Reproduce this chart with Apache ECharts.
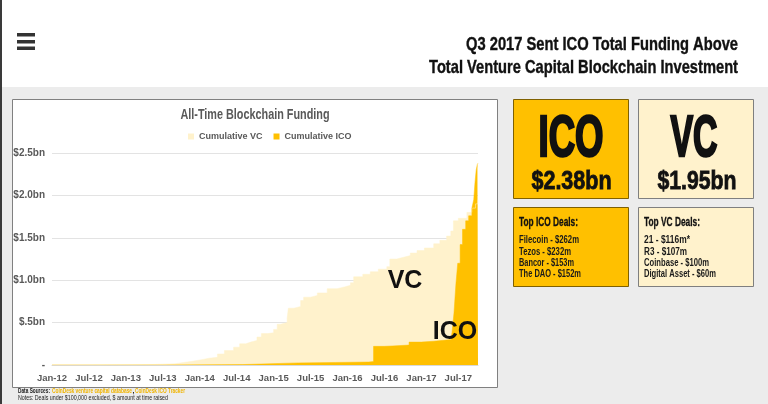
<!DOCTYPE html>
<html>
<head>
<meta charset="utf-8">
<script src="https://cdn.jsdelivr.net/npm/echarts@6/dist/echarts.min.js"></script>
<style>html,body{margin:0;padding:0;background:#ececec}#c{width:768px;height:404px}</style>
</head>
<body>
<div id="c"></div>
<script>
// ---------- data ----------
const tickLabels = ['Jan-12','Jul-12','Jan-13','Jul-13','Jan-14','Jul-14','Jan-15','Jul-15','Jan-16','Jul-16','Jan-17','Jul-17'];

const vcDates = ['2012-01-01','2012-07-01','2013-01-01','2013-05-01','2013-07-01','2013-09-01','2013-10-13','2013-11-16',
  '2014-01-04','2014-02-15','2014-03-28','2014-05-01','2014-06-16','2014-07-16','2014-08-16','2014-09-10','2014-10-10',
  '2014-11-01','2014-12-01','2015-01-01','2015-01-19','2015-02-04','2015-03-07','2015-03-13','2015-04-10','2015-05-13',
  '2015-05-28','2015-07-01','2015-08-04','2015-09-22','2015-11-10','2015-12-16','2016-01-16','2016-02-01','2016-03-16',
  '2016-04-22','2016-06-01','2016-07-13','2016-07-28','2016-09-01','2016-10-04','2016-11-07','2016-12-10','2017-01-16',
  '2017-03-01','2017-04-01','2017-05-04','2017-05-25','2017-06-07','2017-07-01','2017-08-13','2017-09-07','2017-09-25','2017-10-07'];
const vcValues = [0.000,0.002,0.005,0.010,0.015,0.030,0.040,0.060,
  0.080,0.090,0.130,0.170,0.210,0.250,0.270,0.290,0.330,
  0.370,0.380,0.420,0.480,0.500,0.550,0.670,0.690,0.760,
  0.800,0.820,0.850,0.900,0.920,0.940,0.970,1.040,1.070,
  1.100,1.130,1.160,1.250,1.270,1.290,1.320,1.350,1.380,
  1.430,1.470,1.520,1.580,1.700,1.730,1.800,1.850,1.900,1.950];

const icoDates = ['2012-01-01','2013-07-01','2014-08-01','2015-05-01','2015-11-01','2016-04-15','2016-05-08','2016-07-01',
  '2016-08-12','2016-11-01','2017-01-01','2017-03-01','2017-05-28','2017-06-01','2017-06-10','2017-06-19','2017-06-28',
  '2017-07-10','2017-07-22','2017-08-07','2017-08-22','2017-09-07','2017-09-16','2017-09-22','2017-09-28','2017-10-04','2017-10-07'];
const icoValues = [0.000,0.005,0.025,0.030,0.035,0.040,0.220,0.225,
  0.235,0.270,0.280,0.300,0.330,0.400,0.620,0.950,1.200,
  1.420,1.600,1.700,1.760,1.850,1.950,2.150,2.300,2.370,2.380];

const topIcoDeals = ['Filecoin - $262m','Tezos - $232m','Bancor - $153m','The DAO - $152m'];
const topVcDeals = ['21 - $116m*','R3 - $107m','Coinbase - $100m','Digital Asset - $60m'];
const icoTotal = '$2.38bn';
const vcTotal = '$1.95bn';

// ---------- helpers ----------
function monthOffset(s){
  const p = s.split('-').map(Number);
  const dim = new Date(p[0], p[1], 0).getDate();
  return (p[0]-2012)*12 + (p[1]-1) + (p[2]-1)/dim;
}
const NARROW = "'Liberation Sans Narrow','Liberation Sans',Arial,sans-serif";
const ctx = document.createElement('canvas').getContext('2d');
function fit(text, font, w){ ctx.font = font; return w / ctx.measureText(text).width; }
function txt(text, x, y, font, w, fill, align, strokeW){
  const st = {text:text, font:font, fill:fill||'#111', align:align||'left', textAlign:align||'left',
      verticalAlign:'middle', textVerticalAlign:'middle'};
  if (strokeW) { st.stroke = fill||'#111'; st.lineWidth = strokeW; }
  return {type:'text', x:x, y:y, z:10, scaleX: w ? fit(text, font, w) : 1, style:st};
}
function rect(x,y,w,h,fill,stroke){
  return {type:'rect', z:-5, shape:{x:x,y:y,width:w,height:h},
    style:{fill:fill, stroke:stroke||null, lineWidth:stroke?1:0}};
}

const vcData = vcDates.map((d,i)=>[monthOffset(d), vcValues[i]]);
const icoData = icoDates.map((d,i)=>[monthOffset(d), icoValues[i]]);
const xMax = monthOffset(vcDates[vcDates.length-1]);

const ORANGE = '#FFC000', LIGHT = '#FFF2CC';

const graphics = [
  rect(0,0,768,87,'#ffffff'),
  rect(0,0,2,404,'#3a3a3a'),
  rect(17,33,18,3.5,'#333'), rect(17,40,18,3.5,'#333'), rect(17,46.5,18,3.5,'#333'),
  rect(12.5,99.5,485,288,'#ffffff','#808080'),
  rect(513.5,99.5,115,99,ORANGE,'#7f6000'),
  rect(638.5,99.5,115,99,LIGHT,'#7f7f7f'),
  rect(513.5,207.5,115,79,ORANGE,'#7f6000'),
  rect(638.5,207.5,115,79,LIGHT,'#7f7f7f'),
  txt('Q3 2017 Sent ICO Total Funding Above', 738, 44.5, 'bold 19px '+NARROW, 272, '#111', 'right', 0.4),
  txt('Total Venture Capital Blockchain Investment', 738, 67.5, 'bold 19px '+NARROW, 309, '#111', 'right', 0.4),
  txt('All-Time Blockchain Funding', 255, 115, 'bold 14px '+NARROW, 149, '#595959', 'center'),
  txt('ICO', 571, 140, 'bold 57px '+NARROW, 65, '#111', 'center', 2.6),
  txt(icoTotal, 571.5, 182.5, 'bold 25px '+NARROW, 80, '#111', 'center', 0.8),
  txt('VC', 694, 140, 'bold 57px '+NARROW, 47, '#111', 'center', 2.6),
  txt(vcTotal, 697, 182.5, 'bold 25px '+NARROW, 79, '#111', 'center', 0.8),
  txt('Top ICO Deals:', 519, 223, 'bold 12px '+NARROW, 59, '#111', 'left', 0.3),
  txt('Top VC Deals:', 644, 223, 'bold 12px '+NARROW, 56, '#111', 'left', 0.3),
  txt('VC', 405, 281, 'bold 25px "Liberation Sans",Arial,sans-serif', 0, '#111', 'center'),
  txt('ICO', 455, 332.5, 'bold 25px "Liberation Sans",Arial,sans-serif', 0, '#111', 'center'),
  txt('Data Sources:', 18, 391, 'bold 7px '+NARROW, 32, '#222'),
  txt('CoinDesk venture capital database', 52, 391, 'bold 7px '+NARROW, 80, '#f0b400'),
  txt(',', 132.5, 391, 'bold 7px '+NARROW, 0, '#222'),
  txt('CoinDesk ICO Tracker', 135, 391, 'bold 7px '+NARROW, 50, '#f0b400'),
  txt('Notes: Deals under $100,000 excluded, $ amount at time raised', 18, 398.5, '7px '+NARROW, 150, '#222')
];
const icoW = [60,52,55,62], vcW = [46,43,65,72], rowY = [240,251.5,262.5,273.5];
topIcoDeals.forEach((t,i)=>graphics.push(txt(t, 519, rowY[i], 'bold 11px '+NARROW, icoW[i], '#1a1a1a')));
topVcDeals.forEach((t,i)=>graphics.push(txt(t, 644, rowY[i], 'bold 11px '+NARROW, vcW[i], '#1a1a1a')));

const chart = echarts.init(document.getElementById('c'), null, {renderer:'canvas'});
chart.setOption({
  backgroundColor:'#ececec',
  animation:false,
  graphic: graphics,
  legend:{
    left:183, top:127, itemWidth:6, itemHeight:6, itemGap:11,
    textStyle:{fontSize:9, fontWeight:'bold', color:'#595959', fontFamily:NARROW},
    data:[{name:'Cumulative VC', icon:'rect', itemStyle:{color:LIGHT}},
          {name:'Cumulative ICO', icon:'rect', itemStyle:{color:ORANGE}}]
  },
  grid:{left:52, right:290, top:153, bottom:39},
  xAxis:{
    type:'value', min:0, max:xMax, interval:6,
    axisLine:{lineStyle:{color:'#d9d9d9'}}, axisTick:{show:false}, splitLine:{show:false},
    axisLabel:{margin:8, fontSize:9.5, fontWeight:'bold', color:'#595959', fontFamily:NARROW, showMaxLabel:false,
      formatter:function(v){ const i=Math.round(v/6); return Math.abs(v-i*6)<0.01 ? (tickLabels[i]||'') : ''; }}
  },
  yAxis:{
    type:'value', min:0, max:2.5, interval:0.5,
    axisLine:{show:false}, axisTick:{show:false},
    splitLine:{lineStyle:{color:'#e3e3e3'}},
    axisLabel:{margin:7, fontSize:10, fontWeight:'bold', color:'#595959', fontFamily:NARROW,
      formatter:function(v){ if(v===0) return '-'; return '$' + (v<1 ? '.5' : v.toFixed(1)) + 'bn'; }}
  },
  series:[
    {name:'Cumulative VC', type:'line', step:'end', symbol:'none', data:vcData,
     itemStyle:{color:LIGHT}, lineStyle:{color:LIGHT, width:0.5}, areaStyle:{color:LIGHT, opacity:1}},
    {name:'Cumulative ICO', type:'line', step:'end', symbol:'none', data:icoData,
     itemStyle:{color:ORANGE}, lineStyle:{color:ORANGE, width:0.5}, areaStyle:{color:ORANGE, opacity:1}}
  ]
});
</script>
</body>
</html>
